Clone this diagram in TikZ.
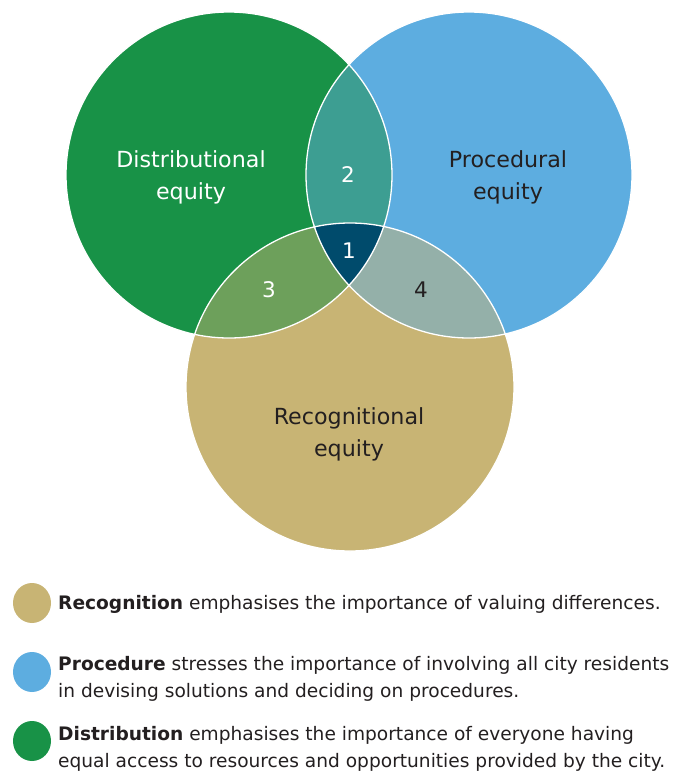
\documentclass[tikz,border=0pt]{standalone}
\usepackage{fontspec}
\setmainfont{DejaVu Sans}
\definecolor{cgreen}{HTML}{189247}
\definecolor{cblue}{HTML}{5DADE0}
\definecolor{ctan}{HTML}{C8B474}
\definecolor{cteal}{HTML}{3D9E92}
\definecolor{colive}{HTML}{6DA05B}
\definecolor{cgrey}{HTML}{94B0A9}
\definecolor{cdark}{HTML}{004B6C}
\definecolor{ctext}{HTML}{231F20}
\tikzset{
  biglabel/.style={align=center, font=\fontsize{22.2}{32}\selectfont, inner sep=0pt},
  numlabel/.style={font=\fontsize{21.5}{24}\selectfont, inner sep=0pt},
  legtext/.style={anchor=base west, inner sep=0pt, font=\fontsize{18.6}{27}\selectfont, text=ctext},
  legdot/.style={ellipse, minimum width=38pt, minimum height=40pt, inner sep=0pt},
}
\usetikzlibrary{shapes.geometric}
\begin{document}
\begin{tikzpicture}[x=1pt,y=-1pt]
\useasboundingbox (0,0) rectangle (684,772);
\def\cG{(229,175) circle (163)}
\def\cB{(469,175) circle (163)}
\def\cT{(350,387) circle (164)}
\fill[cgreen] \cG;
\fill[cblue] \cB;
\fill[ctan] \cT;
\begin{scope}\clip \cG; \fill[cteal] \cB; \end{scope}
\begin{scope}\clip \cG; \fill[colive] \cT; \end{scope}
\begin{scope}\clip \cB; \fill[cgrey] \cT; \end{scope}
\begin{scope}\clip \cG; \clip \cB; \fill[cdark] \cT; \end{scope}
\draw[white, line width=1.3pt] \cG \cB \cT;
\node[biglabel, text=white] (dist) at (191,177) {Distributional\\equity};
\node[biglabel, text=ctext] (proc) at (508,177) {Procedural\\equity};
\node[biglabel, text=ctext] (reco) at (349,434) {Recognitional\\equity};
\node[numlabel, text=white] (n2) at (348,175) {2};
\node[numlabel, text=white] (n1) at (349,251) {1};
\node[numlabel, text=white] (n3) at (269,290) {3};
\node[numlabel, text=ctext] (n4) at (421,290) {4};
\node[legdot, fill=ctan] (d1) at (32,603) {};
\node[legdot, fill=cblue] (d2) at (32,672) {};
\node[legdot, fill=cgreen] (d3) at (32,741) {};
\node[legtext] (t1) at (58,609) {\textbf{Recognition} emphasises the importance of valuing differences.};
\node[legtext] (t2) at (58,670) {\textbf{Procedure} stresses the importance of involving all city residents};
\node[legtext] (t2b) at (58,697) {in devising solutions and deciding on procedures.};
\node[legtext] (t3) at (58,740) {\textbf{Distribution} emphasises the importance of everyone having};
\node[legtext] (t3b) at (58,767) {equal access to resources and opportunities provided by the city.};
\end{tikzpicture}
\end{document}
